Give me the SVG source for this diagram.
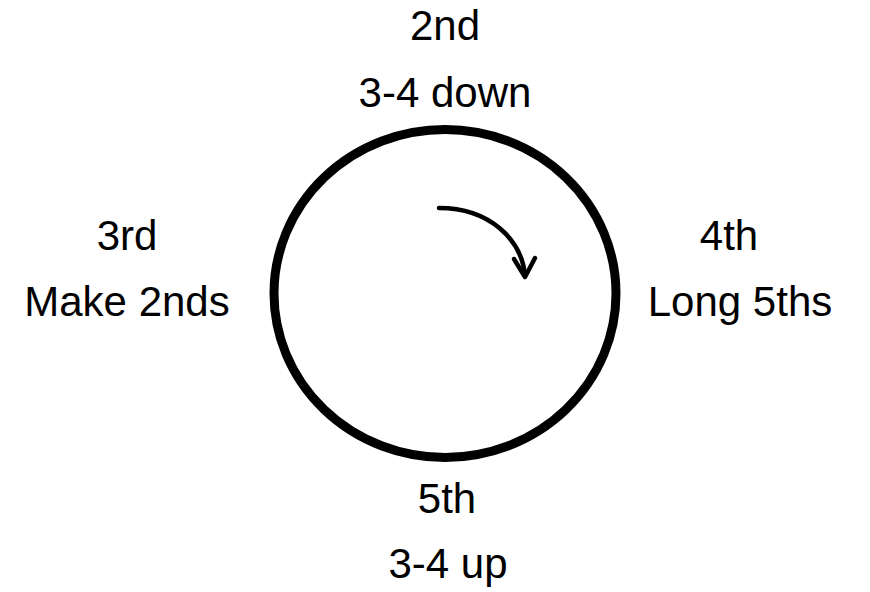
<svg xmlns="http://www.w3.org/2000/svg" width="870" height="592" viewBox="0 0 870 592">
<style>
text{font-family:"Liberation Sans",Arial,sans-serif;font-size:42px;fill:#000;text-anchor:middle}
.ring{fill:none;stroke:#000;stroke-width:9}
.arr{fill:none;stroke:#000;stroke-width:4.5;stroke-linecap:round;stroke-linejoin:round}
</style>
<rect width="870" height="592" fill="#fff"/>
<g id="circle"><ellipse class="ring" cx="445" cy="293.5" rx="171" ry="164"/></g>
<g id="connectors">
<path class="arr" d="M439,208 C490,208 522,240 525,276"/>
<path class="arr" d="M514,259 L525,277 L535,258"/>
</g>
<g id="n2"><text x="445" y="40">2nd</text><text x="445" y="107">3-4 down</text></g>
<g id="n3"><text x="127" y="250">3rd</text><text x="127" y="316">Make 2nds</text></g>
<g id="n4"><text x="729" y="250">4th</text><text x="740" y="316">Long 5ths</text></g>
<g id="n5"><text x="447" y="513">5th</text><text x="448" y="578">3-4 up</text></g>
</svg>
